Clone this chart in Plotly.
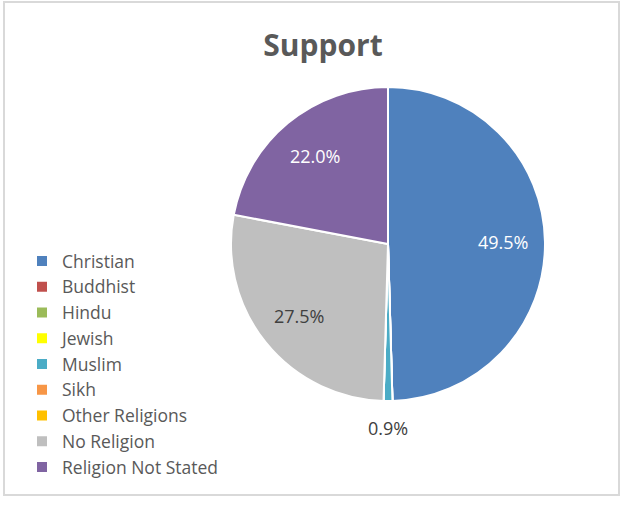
import math
import plotly.graph_objects as go

categories = ["Christian", "Buddhist", "Hindu", "Jewish", "Muslim", "Sikh",
              "Other Religions", "No Religion", "Religion Not Stated"]
values = [49.5, 0, 0, 0, 0.9, 0, 0, 27.5, 22.0]
colors = ["#4F81BD", "#C0504D", "#9BBB59", "#FFFF00", "#4BACC6", "#F79646",
          "#FFC000", "#BFBFBF", "#8064A2"]
label_colors = ["#FFFFFF", "#404040", "#404040", "#404040", "#404040", "#404040",
                "#404040", "#404040", "#FFFFFF"]
label_outside = [False, False, False, False, True, False, False, False, False]

W, H = 622, 505
cx, cy, R = 388, 244, 157

fig = go.Figure(go.Pie(
    labels=categories,
    values=values,
    textinfo="none",
    marker=dict(colors=colors, line=dict(color="#FFFFFF", width=2)),
    sort=False,
    direction="clockwise",
    rotation=0,
    showlegend=True,
    hoverinfo="label+percent",
    domain=dict(x=[(cx - R) / W, (cx + R) / W], y=[1 - (cy + R) / H, 1 - (cy - R) / H]),
))

# data labels placed at each slice's mid-angle, derived from the values
total = sum(values)
annotations = []
cum = 0.0
for cat, v, col, out in zip(categories, values, label_colors, label_outside):
    if v > 0:
        mid = (cum + v / 2) / total
        theta = 2 * math.pi * mid
        r = R * (1.17 if out else 0.73)
        px = cx + r * math.sin(theta)
        py = cy - r * math.cos(theta)
        annotations.append(dict(
            x=px / W, y=1 - py / H, xref="paper", yref="paper",
            text=f"{v:.1f}%", showarrow=False, xanchor="center", yanchor="middle",
            font=dict(family="Open Sans", size=18, color=col)))
    cum += v

fig.update_layout(
    width=W, height=H,
    margin=dict(l=0, r=0, t=0, b=0),
    paper_bgcolor="white",
    plot_bgcolor="white",
    title=dict(text="<b>Support</b>", x=323 / W, y=1 - 45 / H, xanchor="center", yanchor="middle",
               font=dict(family="Open Sans", size=30, color="#595959")),
    legend=dict(x=22 / W, y=1 - 364 / H, xanchor="left", yanchor="middle",
                font=dict(family="Open Sans", size=17.5, color="#595959"),
                bgcolor="rgba(0,0,0,0)", itemclick=False),
    annotations=annotations,
    shapes=[dict(type="rect", xref="paper", yref="paper",
                 x0=4 / W, x1=619 / W, y0=1 - 495 / H, y1=1 - 2 / H,
                 line=dict(color="#D9D9D9", width=2), fillcolor="rgba(0,0,0,0)")],
)

fig.write_html("out.html", config={"displayModeBar": False},
               post_script="document.body.style.margin='0';")
